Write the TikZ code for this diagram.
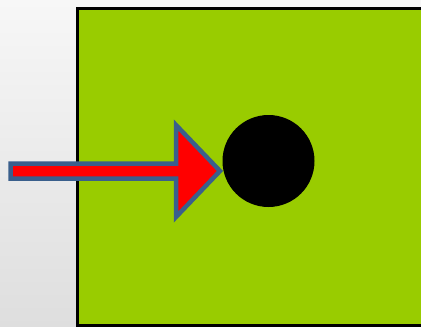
\documentclass[tikz,border=0pt]{standalone}
\usepackage{tikz}
\definecolor{boardgreen}{HTML}{99CC00}
\definecolor{arrowred}{HTML}{FF0000}
\definecolor{edgeblue}{HTML}{3A5F8C}
\definecolor{bgtop}{HTML}{F7F7F7}
\definecolor{bgbottom}{HTML}{DEDEDE}

\begin{document}
\begin{tikzpicture}[
  x=1pt, y=-1pt,
  board/.style={fill=boardgreen, draw=black, line width=2.6pt},
  pusharrow/.style={fill=arrowred, draw=edgeblue, line width=4.5pt, line join=miter},
]
  % Background
  \shade[top color=bgtop, bottom color=bgbottom] (0,0) rectangle (421,327);
  \useasboundingbox (0,0) rectangle (421,327);

  % Board
  \draw[board] (77.5,8.5) rectangle (440,325.5);

  % Ball
  \fill[black] (268.5,161) circle (46);

  % Arrow
  \draw[pusharrow] (10.5,163.5) -- (176,163.5) -- (176,125) -- (220,171)
    -- (176,217) -- (176,178.5) -- (10.5,178.5) -- cycle;
\end{tikzpicture}
\end{document}
